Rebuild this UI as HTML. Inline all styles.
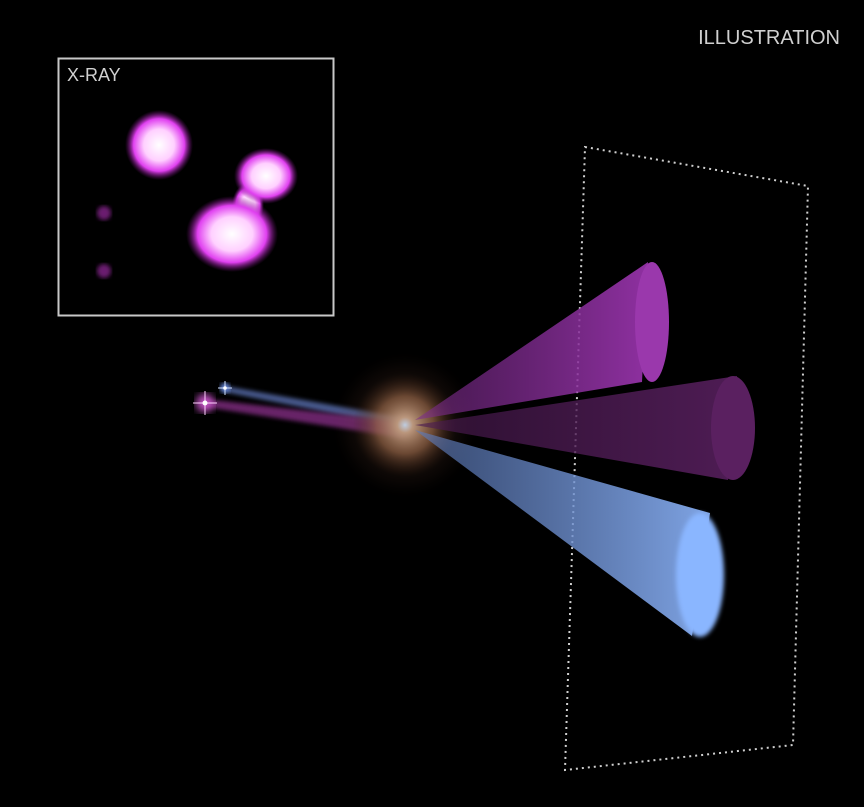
<!DOCTYPE html>
<html><head><meta charset="utf-8"><style>
html,body{margin:0;padding:0;background:#000;}
svg{display:block;}
text{font-family:"Liberation Sans",sans-serif;}
</style></head><body>
<svg width="864" height="807" viewBox="0 0 864 807">
<defs>
  <filter id="blur2"><feGaussianBlur stdDeviation="2"/></filter>
  <filter id="blur4"><feGaussianBlur stdDeviation="4"/></filter>
  <filter id="blur8"><feGaussianBlur stdDeviation="8"/></filter>
  <radialGradient id="blob" cx="50%" cy="50%" r="50%">
    <stop offset="0" stop-color="#ffffff"/>
    <stop offset="0.45" stop-color="#ffd0ff"/>
    <stop offset="0.75" stop-color="#e040f0"/>
    <stop offset="1" stop-color="#7a1080" stop-opacity="0"/>
  </radialGradient>
  <radialGradient id="galaxy" cx="50%" cy="50%" r="50%">
    <stop offset="0" stop-color="#cfe6ff"/>
    <stop offset="0.15" stop-color="#c9a68a"/>
    <stop offset="0.55" stop-color="#9a6a4a" stop-opacity="0.7"/>
    <stop offset="1" stop-color="#3a2010" stop-opacity="0"/>
  </radialGradient>
  <linearGradient id="gTop" x1="0" y1="0" x2="1" y2="0">
    <stop offset="0" stop-color="#7a2a8a" stop-opacity="0.55"/>
    <stop offset="1" stop-color="#8e30a0"/>
  </linearGradient>
  <linearGradient id="gMid" x1="0" y1="0" x2="1" y2="0">
    <stop offset="0" stop-color="#4a1a50" stop-opacity="0.6"/>
    <stop offset="1" stop-color="#4e1c54"/>
  </linearGradient>
  <linearGradient id="gBlue" x1="0" y1="0" x2="1" y2="0">
    <stop offset="0" stop-color="#5a78b8" stop-opacity="0.6"/>
    <stop offset="1" stop-color="#7fa4e4"/>
  </linearGradient>
</defs>
<rect width="864" height="807" fill="#000"/>

<text x="840" y="44" text-anchor="end" font-size="20" fill="#d0d0d0">ILLUSTRATION</text>

<g>
  <rect x="58.5" y="58.5" width="275" height="257" fill="#000" stroke="#c8c8c8" stroke-width="2"/>
  <text x="67" y="81" font-size="18" fill="#d0d0d0">X-RAY</text>
  <ellipse cx="159" cy="145" rx="34" ry="35" fill="url(#blob)"/>
  <ellipse cx="248" cy="205" rx="16" ry="22" fill="url(#blob)"/>
  <ellipse cx="266" cy="176" rx="32" ry="28" fill="url(#blob)"/>
  <ellipse cx="232" cy="234" rx="46" ry="38" fill="url(#blob)"/>
  <circle cx="104" cy="213" r="7" fill="#6a1a70" filter="url(#blur2)"/>
  <circle cx="104" cy="271" r="7" fill="#6a1a70" filter="url(#blur2)"/>
</g>

<polygon points="585,147 808,186 793,745 565,770" fill="none" stroke="#d0d0d0" stroke-width="2" stroke-dasharray="2,4"/>

<g>
  <polygon points="225,386 225,392 405,428 405,418" fill="#5a70b0" opacity="0.8" filter="url(#blur2)"/>
  <polygon points="205,399 205,407 405,438 405,422" fill="#7a2a7a" opacity="0.85" filter="url(#blur2)"/>
</g>

<circle cx="405" cy="425" r="52" fill="url(#galaxy)"/>
<circle cx="405" cy="425" r="60" fill="#6a4030" opacity="0.15" filter="url(#blur8)"/>

<g>
  <polygon points="415,420 648,262 642,382" fill="url(#gTop)"/>
  <ellipse cx="652" cy="322" rx="17" ry="60" fill="#9a38ac"/>
</g>
<g>
  <polygon points="415,425 737,376 728,480" fill="url(#gMid)"/>
  <ellipse cx="733" cy="428" rx="22" ry="52" fill="#5a2060"/>
</g>
<g>
  <polygon points="415,430 710,513 692,636" fill="url(#gBlue)"/>
  <ellipse cx="700" cy="575" rx="24" ry="62" fill="#8ab6ff" filter="url(#blur2)"/>
</g>

<g>
  <circle cx="205" cy="403" r="9" fill="#c050c0" filter="url(#blur4)"/>
  <line x1="193" y1="403" x2="217" y2="403" stroke="#ffd0ff" stroke-width="1"/>
  <line x1="205" y1="391" x2="205" y2="415" stroke="#ffd0ff" stroke-width="1"/>
  <circle cx="205" cy="403" r="2.5" fill="#fff"/>
  <circle cx="225" cy="388" r="5" fill="#6080d0" filter="url(#blur2)"/>
  <line x1="218" y1="388" x2="232" y2="388" stroke="#d0e0ff" stroke-width="1"/>
  <line x1="225" y1="381" x2="225" y2="395" stroke="#d0e0ff" stroke-width="1"/>
  <circle cx="225" cy="388" r="1.8" fill="#fff"/>
</g>
</svg>
</body></html>
